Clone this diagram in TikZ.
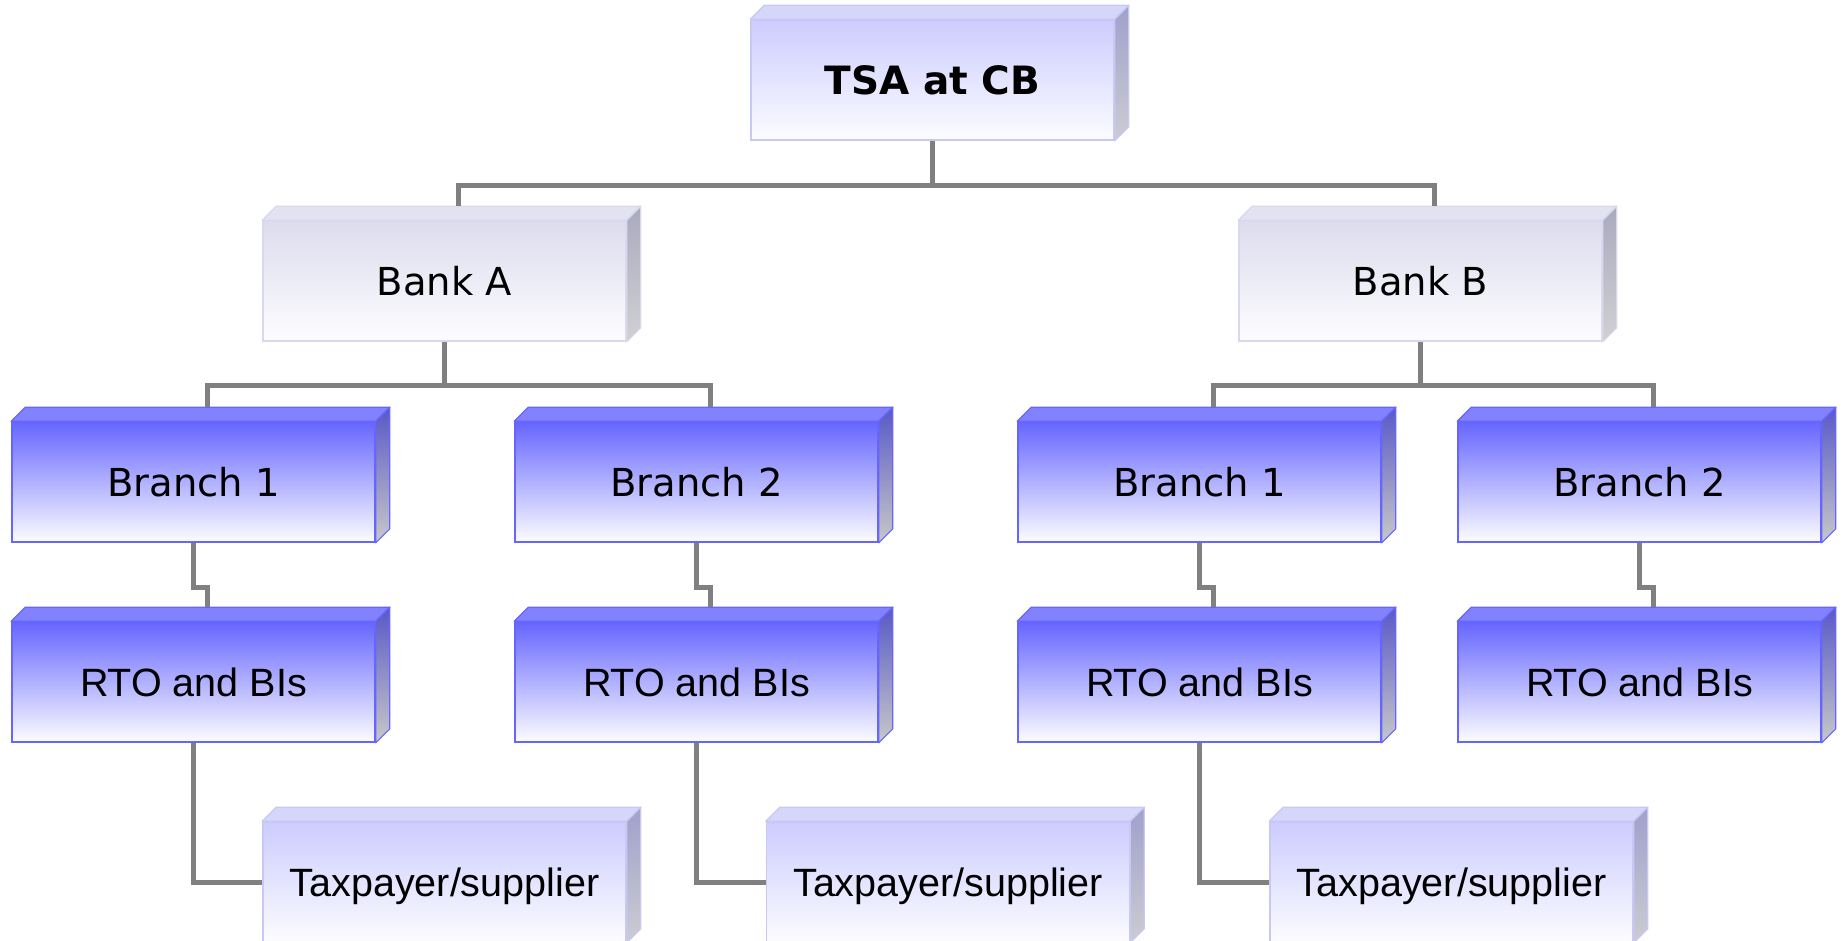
\documentclass[tikz,border=0pt]{standalone}
\usepackage{fontspec}
\usetikzlibrary{calc}
\newfontfamily\dvfont{DejaVu Sans}
\newfontfamily\arfont{Liberation Sans}
\definecolor{conncol}{HTML}{808080}
\definecolor{bluetopc}{HTML}{6666FF}
\definecolor{bluebotc}{HTML}{FCFCFF}
\definecolor{blueedge}{HTML}{6666FF}
\definecolor{bluelid}{HTML}{8282FF}
\definecolor{bluesidet}{HTML}{5858C8}
\definecolor{bluesideb}{HTML}{C8C8C8}
\definecolor{litetopc}{HTML}{CCCCFF}
\definecolor{litebotc}{HTML}{FCFCFF}
\definecolor{liteedge}{HTML}{C8C8F4}
\definecolor{litelid}{HTML}{D6D6FA}
\definecolor{litesidet}{HTML}{A0A0CC}
\definecolor{litesideb}{HTML}{CCCCD2}
\definecolor{banktopc}{HTML}{DCDCEE}
\definecolor{bankbotc}{HTML}{FDFDFF}
\definecolor{bankedge}{HTML}{D8D8EE}
\definecolor{banklid}{HTML}{E2E2F0}
\definecolor{banksidet}{HTML}{AAAABE}
\definecolor{banksideb}{HTML}{D0D0D4}
\tikzset{
  basebox/.style={rectangle, minimum width=363pt, minimum height=120pt, inner sep=0pt,
     line width=1.6pt, text height=28pt, text depth=0pt, align=center},
  bluefront/.style={basebox, draw=blueedge, top color=bluetopc, bottom color=bluebotc},
  bluetop/.style={draw=blueedge, line width=1.2pt, fill=bluelid, line join=round},
  blueside/.style={draw=blueedge, line width=1.2pt, top color=bluesidet, bottom color=bluesideb, line join=round},
  litefront/.style={basebox, draw=liteedge, top color=litetopc, bottom color=litebotc},
  litetop/.style={draw=liteedge, line width=1.2pt, fill=litelid, line join=round},
  liteside/.style={draw=liteedge, line width=1.2pt, top color=litesidet, bottom color=litesideb, line join=round},
  bankfront/.style={basebox, draw=bankedge, top color=banktopc, bottom color=bankbotc},
  banktop/.style={draw=bankedge, line width=1.2pt, fill=banklid, line join=round},
  bankside/.style={draw=bankedge, line width=1.2pt, top color=banksidet, bottom color=banksideb, line join=round},
  conn/.style={draw=conncol, line width=5pt, line join=miter},
  vfont/.style={font=\dvfont\fontsize{38.5}{40}\selectfont},
  vbfont/.style={font=\dvfont\bfseries\fontsize{39}{40}\selectfont},
  afont/.style={font=\arfont\fontsize{39.5}{41}\selectfont}
}
\newcommand\cubox[6]{%
  \node[#4front, #5] (#1) at (#2,#3) {#6};
  \path[#4top] (#1.north west) -- ++(14,-14) -- ($(#1.north east)+(14,-14)$) -- (#1.north east) -- cycle;
  \path[#4side] (#1.north east) -- ++(14,-14) -- ($(#1.south east)+(14,-14)$) -- (#1.south east) -- cycle;
}
\begin{document}
\begin{tikzpicture}[x=1pt,y=-1pt]
\useasboundingbox (0,0) rectangle (1844,940);
\clip (0,0) rectangle (1844,940);
% boxes
\cubox{tsa}{932.5}{80}{lite}{vbfont}{TSA at CB}
\cubox{bA}{444.5}{281}{bank}{vfont}{Bank A}
\cubox{bB}{1420.5}{281}{bank}{vfont}{Bank B}
\cubox{br1}{193.5}{482}{blue}{vfont}{Branch 1}
\cubox{br2}{696.5}{482}{blue}{vfont}{Branch 2}
\cubox{br3}{1199.5}{482}{blue}{vfont}{Branch 1}
\cubox{br4}{1639.5}{482}{blue}{vfont}{Branch 2}
\cubox{rt1}{193.5}{682}{blue}{afont}{RTO and BIs}
\cubox{rt2}{696.5}{682}{blue}{afont}{RTO and BIs}
\cubox{rt3}{1199.5}{682}{blue}{afont}{RTO and BIs}
\cubox{rt4}{1639.5}{682}{blue}{afont}{RTO and BIs}
\cubox{tx1}{444.5}{882}{lite}{afont}{Taxpayer/supplier}
\cubox{tx2}{948}{882}{lite}{afont}{Taxpayer/supplier}
\cubox{tx3}{1451.5}{882}{lite}{afont}{Taxpayer/supplier}
% connectors
\begin{scope}[on background layer/.style={}]
\coordinate (j0) at ($(tsa.south)+(0,45)$);
\draw[conn] (tsa.south) -- (j0);
\draw[conn] (j0) -| ($(bA.north)+(14,-14)$);
\draw[conn] (j0) -| ($(bB.north)+(14,-14)$);
\coordinate (jA) at ($(bA.south)+(0,44)$);
\draw[conn] (bA.south) -- (jA);
\draw[conn] (jA) -| ($(br1.north)+(14,-14)$);
\draw[conn] (jA) -| ($(br2.north)+(14,-14)$);
\coordinate (jB) at ($(bB.south)+(0,44)$);
\draw[conn] (bB.south) -- (jB);
\draw[conn] (jB) -| ($(br3.north)+(14,-14)$);
\draw[conn] (jB) -| ($(br4.north)+(14,-14)$);
\foreach \i in {1,2,3,4}{
  \draw[conn] (br\i.south) -- ++(0,45) -| ($(rt\i.north)+(14,-14)$);
}
\foreach \i in {1,2,3}{
  \draw[conn] (rt\i.south) |- (tx\i.west);
}
\end{scope}
\end{tikzpicture}
\end{document}
